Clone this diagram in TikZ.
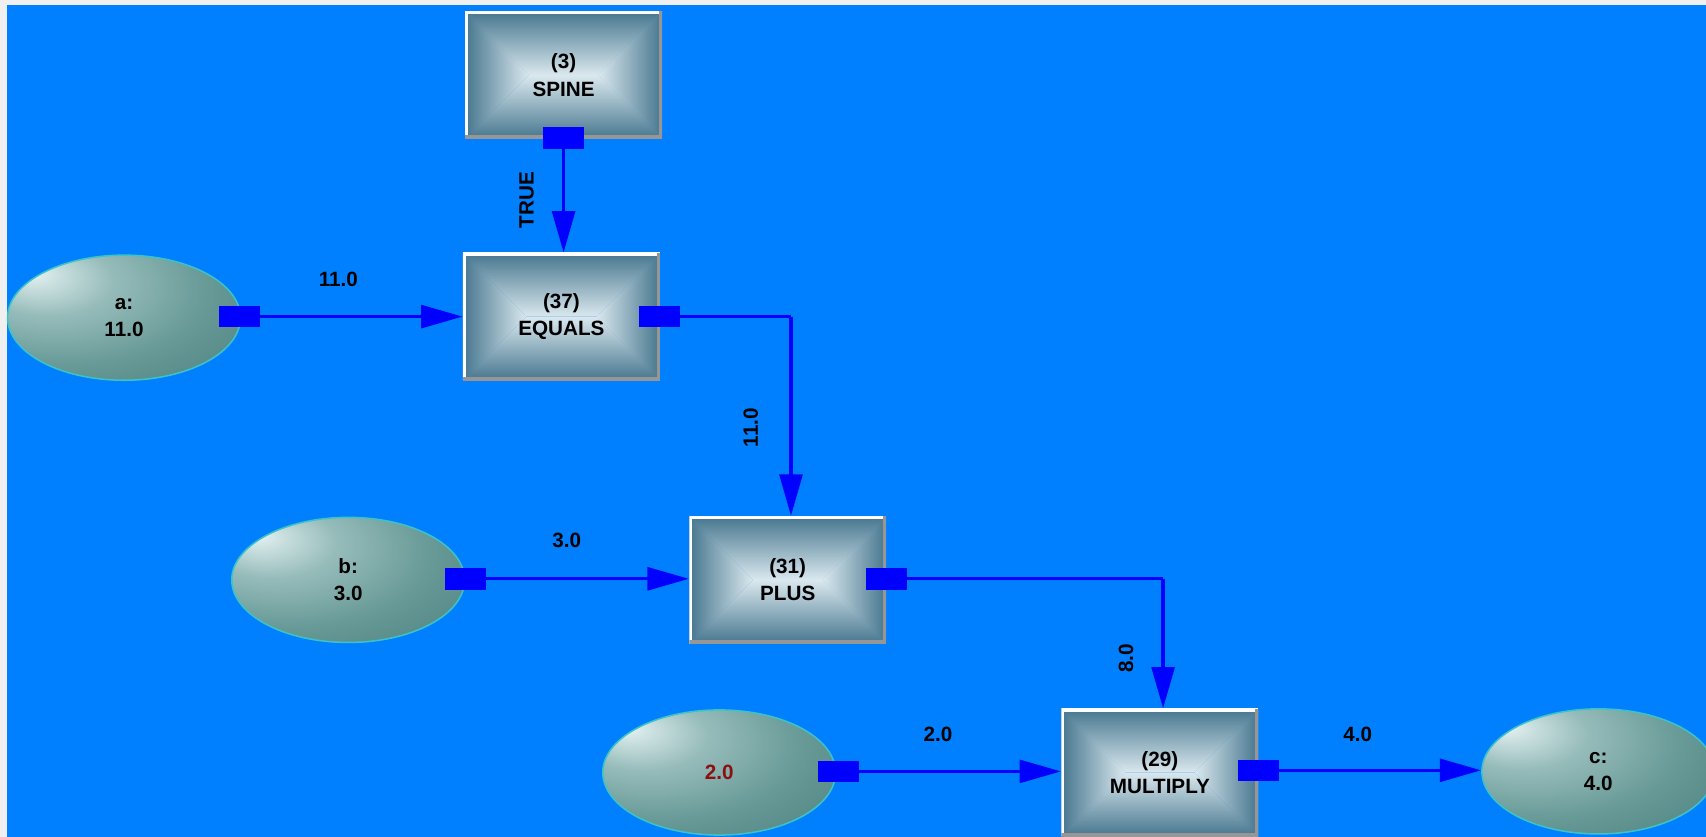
\documentclass[tikz,border=0pt]{standalone}
\usepackage{fontspec}
\setmainfont{Liberation Sans}
\usetikzlibrary{arrows.meta,shapes.geometric,calc}
\definecolor{bgblue}{RGB}{0,128,255}
\definecolor{bggray}{RGB}{240,240,240}
\definecolor{portblue}{RGB}{0,0,255}
\definecolor{boxedge}{RGB}{70,118,142}
\definecolor{boxmid}{RGB}{108,152,172}
\definecolor{boxcenter}{RGB}{218,232,238}
\definecolor{boxshadow}{RGB}{150,150,150}
\definecolor{ellA}{RGB}{232,242,242}
\definecolor{ellB}{RGB}{206,226,226}
\definecolor{ellC}{RGB}{150,188,186}
\definecolor{ellD}{RGB}{104,154,151}
\definecolor{ellE}{RGB}{72,126,124}
\definecolor{ellF}{RGB}{50,102,100}
\definecolor{ellborder}{RGB}{60,195,200}
\definecolor{darkredtext}{RGB}{140,16,16}
\pgfdeclareradialshading{ellshade}{\pgfpoint{-20bp}{18bp}}{color(0bp)=(ellA); color(4bp)=(ellB); color(14bp)=(ellC); color(30bp)=(ellD); color(50bp)=(ellE); color(68bp)=(ellF); color(80bp)=(ellF)}
\tikzset{
  txt/.style={font=\bfseries\fontsize{9.5}{12.5}\selectfont, text=black, align=center, inner sep=0pt},
  opbox/.style={txt, rectangle, minimum width=90.5pt, minimum height=58.5pt,
    path picture={
      \coordinate (@nw) at (path picture bounding box.north west);
      \coordinate (@ne) at (path picture bounding box.north east);
      \coordinate (@sw) at (path picture bounding box.south west);
      \coordinate (@se) at (path picture bounding box.south east);
      \coordinate (@il) at ($(path picture bounding box.center)+(-16pt,0pt)$);
      \coordinate (@ir) at ($(path picture bounding box.center)+(16pt,0pt)$);
      \shade[top color=boxedge, middle color=boxmid, bottom color=boxcenter] (@nw) -- (@ne) -- (@ir) -- (@il) -- cycle;
      \shade[top color=boxcenter, middle color=boxmid, bottom color=boxedge] (@sw) -- (@se) -- (@ir) -- (@il) -- cycle;
      \shade[left color=boxedge, middle color=boxmid, right color=boxcenter] (@nw) -- (@il) -- (@sw) -- cycle;
      \shade[left color=boxcenter, middle color=boxmid, right color=boxedge] (@ne) -- (@ir) -- (@se) -- cycle;
      \draw[white, line width=2.6pt] (@sw) -- (@nw) -- (@ne);
      \draw[boxshadow, line width=3pt] (@ne) -- (@se) -- (@sw);
    }},
  varell/.style={txt, ellipse, minimum width=107pt, minimum height=57.5pt, shading=ellshade, draw=ellborder, line width=0.7pt},
  portbox/.style={rectangle, fill=portblue, minimum width=18.5pt, minimum height=9.5pt, inner sep=0pt},
  conn/.style={draw=portblue, line width=1.5pt, -{Triangle[length=19pt,width=10.5pt]}},
  wire/.style={draw=portblue, line width=1.5pt}
}
\begin{document}
\begin{tikzpicture}[x=0.5pt,y=-0.5pt]
\useasboundingbox (0,0) rectangle (1568,769);
\clip (0,0) rectangle (1568,769);
\fill[bggray] (0,0) rectangle (1568,769);
\fill[bgblue] (6.4,4.6) rectangle (1568,769);

% variables
\node[varell] (a) at (114,292) {a:\\11.0};
\node[varell] (b) at (320,533) {b:\\3.0};
\node[varell, text=darkredtext] (two) at (661,710) {2.0};
\node[varell] (c) at (1469,709) {c:\\4.0};

% operators
\node[opbox] (spine) at (518,69) {(3)\\SPINE};
\node[opbox] (equals) at (516,291) {(37)\\EQUALS};
\node[opbox] (plus) at (724,533) {(31)\\PLUS};
\node[opbox] (mult) at (1066,710) {(29)\\MULTIPLY};

% ports
\node[portbox] (pspine) at (518,127) {};
\node[portbox] (pa) at (220,291) {};
\node[portbox] (pequals) at (606,291) {};
\node[portbox] (pb) at (428,532) {};
\node[portbox] (pplus) at (815,532) {};
\node[portbox] (ptwo) at (771,709) {};
\node[portbox] (pmult) at (1157,708) {};

% connectors
\draw[conn] (pspine.south) -- (pspine.south |- equals.north);
\draw[conn] (pa.east) -- (pa.east -| equals.west);
\draw[wire] (pequals.east) -- (727,291) coordinate (k1);
\draw[conn] (k1) -- (k1 |- plus.north);
\draw[conn] (pb.east) -- (pb.east -| plus.west);
\draw[wire] (pplus.east) -- (1069,532) coordinate (k2);
\draw[conn] (k2) -- (k2 |- mult.north);
\draw[conn] (ptwo.east) -- (ptwo.east -| mult.west);
\draw[conn] (pmult.east) -- (pmult.east -| c.west);

% redraw ports on top
\fill[portblue] (pspine.south west) rectangle (pspine.north east);
\fill[portblue] (pa.south west) rectangle (pa.north east);
\fill[portblue] (pequals.south west) rectangle (pequals.north east);
\fill[portblue] (pb.south west) rectangle (pb.north east);
\fill[portblue] (pplus.south west) rectangle (pplus.north east);
\fill[portblue] (ptwo.south west) rectangle (ptwo.north east);
\fill[portblue] (pmult.south west) rectangle (pmult.north east);

% labels
\node[txt, rotate=90] (ltrue) at (484,184) {TRUE};
\node[txt] (la) at (311,257) {11.0};
\node[txt, rotate=90] (leq) at (690,393) {11.0};
\node[txt] (lb) at (521,497) {3.0};
\node[txt, rotate=90] (lplus) at (1035,605) {8.0};
\node[txt] (ltwo) at (862,675) {2.0};
\node[txt] (lmult) at (1248,675) {4.0};
\end{tikzpicture}
\end{document}
